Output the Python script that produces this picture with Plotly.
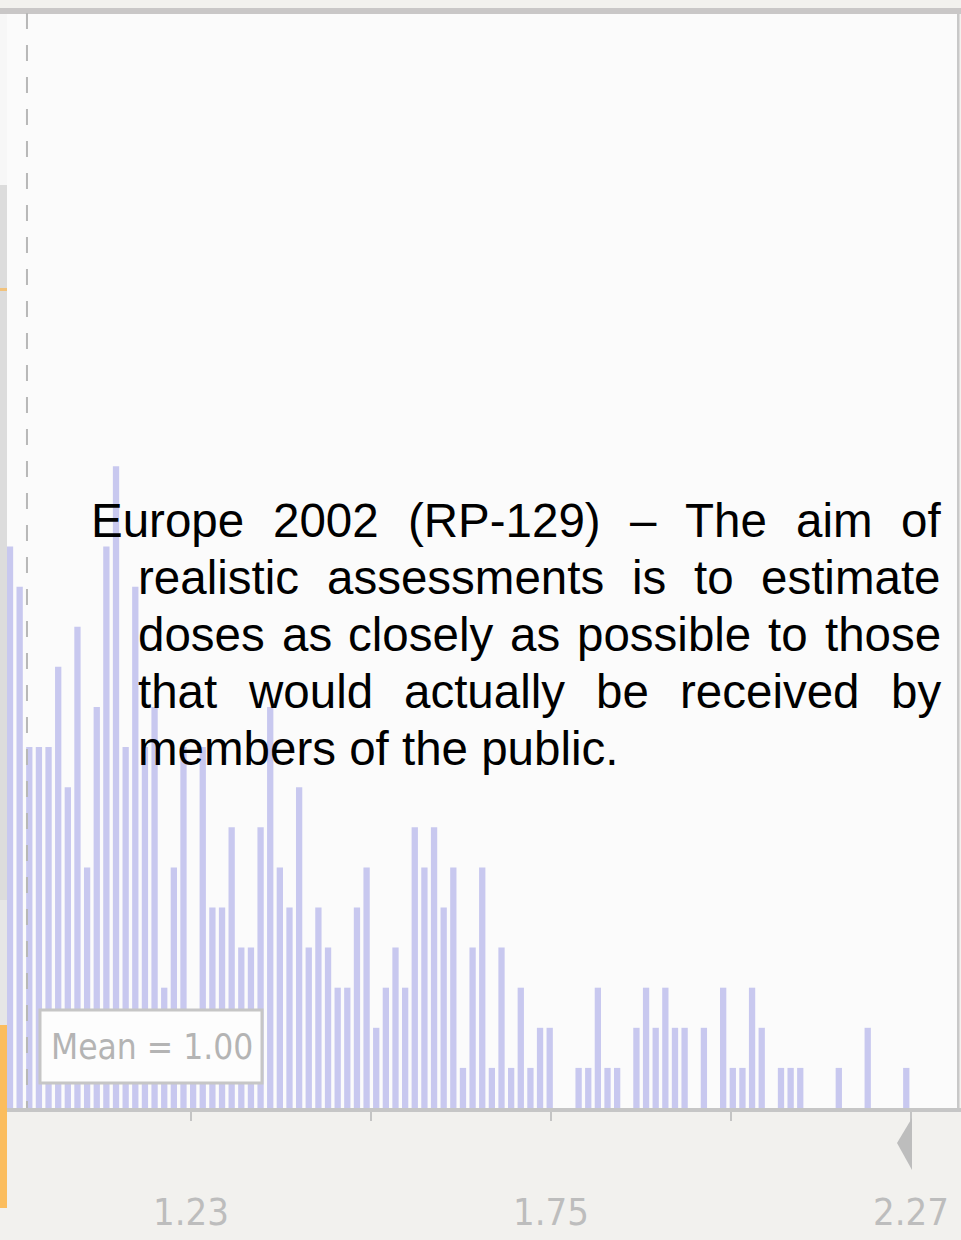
import numpy as np
import plotly.graph_objects as go

# ---------------- data ----------------
COUNTS = [14, 13, 9, 9, 9, 11, 8, 12, 6, 10,
          14, 16, 9, 13, 9, 10, 3, 6, 9, 1,
          9, 5, 5, 7, 4, 4, 7, 10, 6, 5,
          8, 4, 5, 4, 3, 3, 5, 6, 2, 3,
          4, 3, 7, 6, 7, 5, 6, 1, 4, 6,
          1, 4, 1, 3, 1, 2, 2, 0, 0, 1,
          1, 3, 1, 1, 0, 2, 3, 2, 3, 2,
          2, 0, 2, 0, 3, 1, 1, 3, 2, 0,
          1, 1, 1, 0, 0, 0, 1, 0, 0, 2,
          0, 0, 0, 1]
BIN_START = 0.9693
BIN_WIDTH = 0.01392
TICK_LABELS = ["1.23", "1.75", "2.27"]
TICK_VALUES = [1.23, 1.75, 2.27]
MINOR_TICKS = [1.49, 2.01]
MEAN_LABEL = "Mean = 1.00"
MEAN_LINE_X = 0.9938
TEXT_LINES = [
    "Europe 2002 (RP-129) \u2013 The aim of",
    "realistic assessments is to estimate",
    "doses as closely as possible to those",
    "that would actually be received by",
    "members of the public.",
]

bin_centers = BIN_START + BIN_WIDTH * np.arange(len(COUNTS))

W, H = 961, 1240
def X(px):
    return px / W
def Y(py):
    return 1 - py / H

fig = go.Figure()
fig.add_bar(x=bin_centers, y=COUNTS, width=0.0091,
            marker=dict(color="#c8c8ef", line_width=0), hoverinfo="skip")

shapes = []
def rect(x0, y0, x1, y1, color, layer="above", line=None):
    d = dict(type="rect", xref="paper", yref="paper",
             x0=X(x0), x1=X(x1), y0=Y(y1), y1=Y(y0),
             fillcolor=color, layer=layer, line=dict(width=0))
    if line:
        d["line"] = line
    shapes.append(d)

rect(0, 8, 961, 14, "#c9c7c7")              # top border
rect(957, 14, 959.5, 1110, "#c8c8c8")       # right border
rect(7, 1108, 961, 1112, "#c6c6c6")         # axis line
rect(0, 14, 7, 185, "#f7f7f7")
rect(0, 185, 7, 900, "#dcdcdc")
rect(0, 900, 7, 1025, "#e6e6e6")
rect(0, 288, 7, 291, "#f1c27c")
rect(0, 1025, 7, 1208, "#fbbd5e")
# mean dashed line
shapes.append(dict(type="line", xref="x", yref="paper",
                   x0=MEAN_LINE_X, x1=MEAN_LINE_X, y0=Y(13), y1=Y(1108),
                   line=dict(color="#b8b8b8", width=2, dash="16px,16px"),
                   layer="above"))
# mean box
rect(40, 1010, 262, 1083, "#fdfdfd", line=dict(color="#c6c6c6", width=3))
# certainty grabber triangle
shapes.append(dict(type="path", xref="paper", yref="paper",
                   path=f"M {X(912)},{Y(1118)} L {X(897)},{Y(1143)} L {X(912)},{Y(1170)} Z",
                   fillcolor="#bdbdbd", line=dict(width=0), layer="above"))

annotations = []
narrow = "DejaVu Sans Condensed, Liberation Sans, sans-serif"
annotations.append(dict(text=MEAN_LABEL, xref="paper", yref="paper",
                        x=X(152), y=Y(1046.5), xanchor="center", yanchor="middle",
                        showarrow=False, borderpad=0,
                        font=dict(family=narrow, size=35, color="#b4b4b4")))
for v, t in zip(TICK_VALUES, TICK_LABELS):
    annotations.append(dict(text=t, xref="x", yref="paper", x=v, y=Y(1212),
                            xanchor="center", yanchor="middle", showarrow=False,
                            borderpad=0,
                            font=dict(family=narrow, size=38, color="#bdbdbd")))

# justified paragraph (Arial / Liberation Sans metrics)
AW = {'a': 556, 'b': 556, 'c': 500, 'd': 556, 'e': 556, 'f': 278, 'g': 556,
      'h': 556, 'i': 222, 'l': 222, 'm': 833, 'n': 556, 'o': 556, 'p': 556,
      'r': 333, 's': 500, 't': 278, 'u': 556, 'v': 500, 'w': 722, 'y': 500,
      'E': 667, 'T': 611, 'R': 722, 'P': 667, '(': 333, ')': 333, '-': 333,
      '\u2013': 556, '.': 278, ' ': 278}
for d in "0123456789":
    AW[d] = 556
FS = 47.5
def wwidth(w):
    return sum(AW.get(c, 556) for c in w) / 1000 * FS

RIGHT = 940
starts = [90, 137, 137, 137, 137]
baselines = [537, 594, 651, 708, 765]
font = dict(family="Liberation Sans, Arial, sans-serif", size=FS, color="#000000")
for li, line in enumerate(TEXT_LINES):
    base = baselines[li]
    yc = Y(base - 0.3465 * FS)
    if li == len(TEXT_LINES) - 1:
        annotations.append(dict(text=line, xref="paper", yref="paper",
                                x=X(starts[li]), y=yc, xanchor="left", yanchor="middle",
                                showarrow=False, borderpad=0, font=font))
        continue
    words = line.split(" ")
    widths = [wwidth(w) for w in words]
    gap = (RIGHT - starts[li] - sum(widths)) / (len(words) - 1)
    xpos = starts[li]
    for w, ww in zip(words, widths):
        annotations.append(dict(text=w, xref="paper", yref="paper",
                                x=X(xpos), y=yc, xanchor="left", yanchor="middle",
                                showarrow=False, borderpad=0, font=font))
        xpos += ww + gap

all_ticks = sorted(TICK_VALUES + MINOR_TICKS)
fig.update_layout(
    width=W, height=H, margin=dict(l=0, r=0, t=0, b=0),
    paper_bgcolor="#f2f1ee", plot_bgcolor="#fbfbfb",
    showlegend=False, shapes=shapes, annotations=annotations,
    xaxis=dict(domain=[X(7), X(958)], range=[0.96495, 2.33858],
               showgrid=False, zeroline=False, showline=False,
               ticks="outside", tickvals=all_ticks,
               ticklen=12, tickwidth=2, tickcolor="#c4c4c4", showticklabels=False),
    yaxis=dict(domain=[Y(1108), Y(14)], range=[0, 27.28], visible=False),
)
fig.write_html("out.html")
